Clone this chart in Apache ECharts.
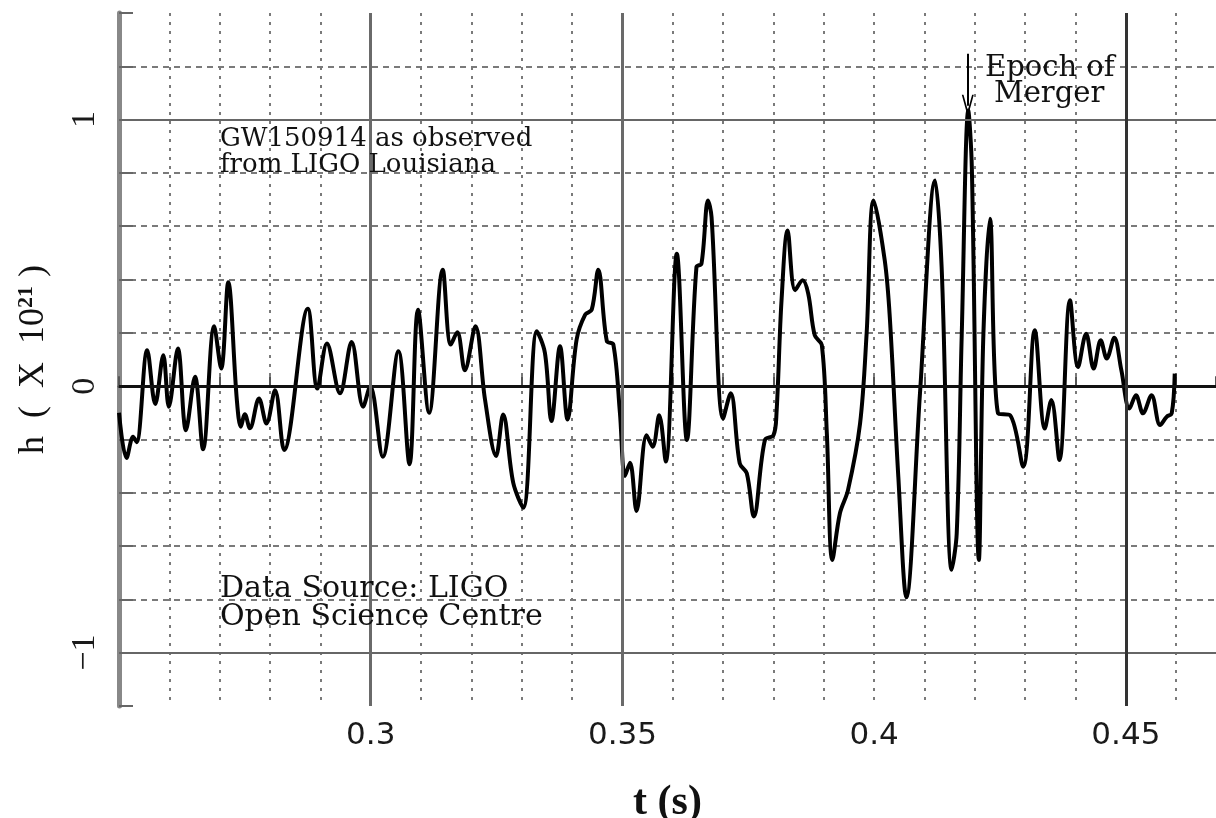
<!DOCTYPE html>
<html>
<head>
<meta charset="utf-8">
<script src="https://cdn.jsdelivr.net/npm/echarts@6/dist/echarts.min.js"></script>
<style>
  html, body { margin: 0; padding: 0; background: #fff; overflow: hidden; }
  #chart { position: absolute; left: 0; top: 0; width: 1216px; height: 818px; }
</style>
</head>
<body>
<div id="chart"></div>
<script>
// ---- data ----
var tValues = [
  0.2500, 0.2515, 0.2528, 0.2535, 0.2556, 0.2572, 0.2588, 0.2599, 0.2617, 0.2633,
  0.2651, 0.2667, 0.2689, 0.2703, 0.2717, 0.2734, 0.2742, 0.2750, 0.2760, 0.2778,
  0.2793, 0.2810, 0.2828, 0.2875, 0.2894, 0.2913, 0.2939, 0.2962, 0.2985, 0.2999,
  0.3024, 0.3055, 0.3077, 0.3094, 0.3116, 0.3143, 0.3159, 0.3172, 0.3187, 0.3208,
  0.3227, 0.3249, 0.3263, 0.3283, 0.3303, 0.3330, 0.3346, 0.3359, 0.3376, 0.3391,
  0.3409, 0.3426, 0.3439, 0.3452, 0.3469, 0.3482, 0.3495, 0.3505, 0.3515, 0.3528,
  0.3548, 0.3560, 0.3573, 0.3586, 0.3608, 0.3628, 0.3647, 0.3657, 0.3670, 0.3677,
  0.3700, 0.3715, 0.3733, 0.3747, 0.3761, 0.3783, 0.3800, 0.3806, 0.3816, 0.3828,
  0.3843, 0.3858, 0.3869, 0.3882, 0.3896, 0.3906, 0.3917, 0.3932, 0.3948, 0.3972,
  0.3985, 0.3999, 0.4021, 0.4031, 0.4048, 0.4064, 0.4091, 0.4121, 0.4134, 0.4154,
  0.4164, 0.4174, 0.4187, 0.4194, 0.4208, 0.4217, 0.4230, 0.4246, 0.4270, 0.4296,
  0.4319, 0.4339, 0.4352, 0.4368, 0.4389, 0.4405, 0.4421, 0.4436, 0.4450, 0.4462,
  0.4477, 0.4491, 0.4507, 0.4520, 0.4534, 0.4551, 0.4568, 0.4581, 0.4591, 0.4597
];
var hValues = [
  -0.10, -0.27, -0.19, -0.21, 0.135, -0.067, 0.116, -0.077, 0.141, -0.165,
  0.035, -0.237, 0.225, 0.066, 0.39, -0.05, -0.152, -0.105, -0.158, -0.046,
  -0.14, -0.015, -0.24, 0.29, -0.009, 0.16, -0.027, 0.166, -0.077, 0.0,
  -0.265, 0.131, -0.293, 0.287, -0.10, 0.437, 0.156, 0.202, 0.06, 0.225,
  -0.05, -0.262, -0.106, -0.362, -0.456, 0.206, 0.125, -0.131, 0.15, -0.125,
  0.175, 0.268, 0.287, 0.437, 0.169, 0.156, -0.10, -0.337, -0.287, -0.468,
  -0.184, -0.227, -0.109, -0.283, 0.497, -0.202, 0.447, 0.46, 0.697, 0.634,
  -0.121, -0.027, -0.29, -0.327, -0.489, -0.202, -0.184, -0.102, 0.322, 0.584,
  0.36, 0.397, 0.347, 0.191, 0.154, -0.177, -0.652, -0.477, -0.39, -0.14,
  0.197, 0.697, 0.472, 0.26, -0.34, -0.792, -0.027, 0.772, 0.447, -0.689,
  -0.552, 0.197, 1.034, 0.82, -0.652, 0.197, 0.628, -0.102, -0.109, -0.302,
  0.21, -0.159, -0.052, -0.277, 0.322, 0.072, 0.197, 0.066, 0.172, 0.104,
  0.182, 0.06, -0.084, -0.034, -0.102, -0.034, -0.146, -0.115, -0.102, 0.047
];
var xTickLabels = ['0.3', '0.35', '0.4', '0.45'];
var yTickLabels = ['\u22121', '0', '1'];
var yTickValues = [-1, 0, 1];
var solidYLines = [-1, 0, 1];
var solidXLines = [0.30, 0.35, 0.45];
var mergerT = 0.4186;
var arrowFromH = 1.247;
var arrowToH = 1.052;

var seriesData = tValues.map(function (t, i) { return [t, hValues[i]]; });

var chart = echarts.init(document.getElementById('chart'), null, { renderer: 'canvas' });

var gridDot = { color: '#7a7a7a', width: 2, type: [3, 6] };
var gridDash = { color: '#7a7a7a', width: 2, type: [6, 5] };

var option = {
  animation: false,
  backgroundColor: '#ffffff',
  grid: { left: 119, right: 0, top: 13, bottom: 112, containLabel: false, outerBoundsMode: 'none' },
  xAxis: {
    type: 'value',
    min: 0.25,
    max: 0.4679,
    interval: 0.05,
    name: 't (s)',
    nameLocation: 'middle',
    nameGap: 76,
    nameTextStyle: { fontFamily: 'Liberation Serif', fontSize: 42, fontWeight: 'bold', color: '#111' },
    axisLine: { show: true, lineStyle: { color: '#444', width: 3 } },
    axisTick: { show: true, inside: true, length: 10, lineStyle: { color: '#555', width: 2 } },
    minorTick: { show: true, splitNumber: 5, length: 10, lineStyle: { color: '#555', width: 2 } },
    splitLine: { show: true, showMaxLine: false, lineStyle: gridDot },
    minorSplitLine: { show: true, lineStyle: gridDot },
    axisLabel: {
      margin: 14,
      fontFamily: 'DejaVu Sans',
      fontSize: 31,
      color: '#1a1a1a',
      showMaxLabel: false,
      formatter: function (v) {
        for (var i = 0; i < xTickLabels.length; i++) {
          if (Math.abs(parseFloat(xTickLabels[i]) - v) < 1e-6) return xTickLabels[i];
        }
        return '';
      }
    }
  },
  yAxis: {
    type: 'value',
    min: -1.2,
    max: 1.4,
    interval: 0.2,
    name: 'h  (  X  10{sup|21} )',
    nameLocation: 'middle',
    nameRotate: 90,
    nameGap: 66,
    nameTextStyle: {
      fontFamily: 'Liberation Serif', fontSize: 36, color: '#111',
      rich: { sup: { fontFamily: 'Liberation Serif', fontSize: 22, fontWeight: 'bold', padding: [0, 0, 16, 0], color: '#111' } }
    },
    axisLine: { show: true, lineStyle: { color: '#888', width: 5 } },
    axisTick: { show: true, inside: true, length: 14, lineStyle: { color: '#666', width: 2 } },
    splitLine: { show: true, showMaxLine: false, showMinLine: false, lineStyle: gridDash },
    axisLabel: {
      rotate: 90,
      margin: 17,
      fontFamily: 'Liberation Serif',
      fontSize: 34,
      color: '#1a1a1a',
      formatter: function (v) {
        for (var i = 0; i < yTickValues.length; i++) {
          if (Math.abs(yTickValues[i] - v) < 1e-6) return yTickLabels[i];
        }
        return '';
      }
    }
  },
  series: [
    {
      type: 'line',
      name: 'guides',
      data: [],
      z: 1,
      silent: true,
      markLine: {
        silent: true,
        symbol: ['none', 'none'],
        label: { show: false },
        animation: false,
        data: solidYLines.map(function (v) {
          return {
            yAxis: v,
            lineStyle: v === 0 ? { color: '#111', width: 3, type: 'solid' } : { color: '#666', width: 2, type: 'solid' }
          };
        }).concat(solidXLines.map(function (v, i) {
          return {
            xAxis: v,
            lineStyle: { color: i === 2 ? '#333' : '#6a6a6a', width: 3, type: 'solid' }
          };
        }))
      }
    },
    {
      type: 'line',
      name: 'GW150914',
      data: seriesData,
      z: 3,
      smooth: 0.35,
      showSymbol: false,
      symbol: 'none',
      lineStyle: { color: '#000', width: 4 },
      markLine: {
        silent: true,
        symbol: ['none', 'path://M0,12 L5,0 L10,12 L8.6,12 L5,3.5 L1.4,12 Z'],
        symbolSize: [12, 22],
        label: { show: false },
        lineStyle: { color: '#000', width: 2, type: 'solid' },
        data: [[{ coord: [mergerT, arrowFromH] }, { coord: [mergerT, arrowToH] }]]
      }
    }
  ],
  graphic: [
    { type: 'text', left: 220, top: 126, z: 10, style: { text: 'GW150914 as observed', fontFamily: 'DejaVu Serif', fontSize: 26, fill: '#111' } },
    { type: 'text', left: 220, top: 152, z: 10, style: { text: 'from LIGO Louisiana', fontFamily: 'DejaVu Serif', fontSize: 26, fill: '#111' } },
    { type: 'text', left: 220, top: 574, z: 10, style: { text: 'Data Source: LIGO', fontFamily: 'DejaVu Serif', fontSize: 30, fill: '#111' } },
    { type: 'text', left: 220, top: 602, z: 10, style: { text: 'Open Science Centre', fontFamily: 'DejaVu Serif', fontSize: 30, fill: '#111' } },
    { type: 'text', left: 985, top: 54, z: 10, style: { text: 'Epoch of', fontFamily: 'DejaVu Serif', fontSize: 29, fill: '#111' } },
    { type: 'text', left: 994, top: 80, z: 10, style: { text: 'Merger', fontFamily: 'DejaVu Serif', fontSize: 29, fill: '#111' } }
  ]
};

chart.setOption(option);
</script>
</body>
</html>
